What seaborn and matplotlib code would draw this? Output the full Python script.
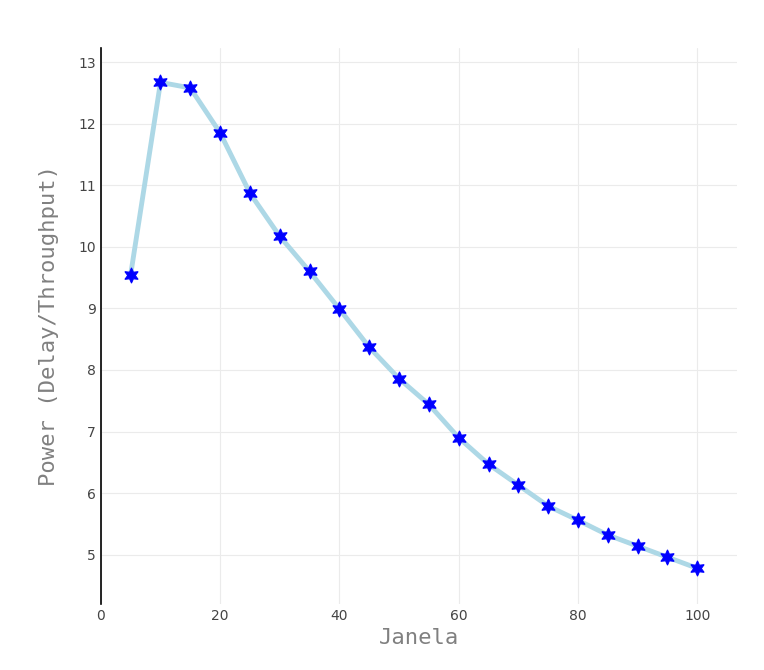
import numpy as np
import pandas as pd
import matplotlib.pyplot as plt
import seaborn as sns

janela = [5, 10, 15, 20, 25, 30, 35, 40, 45, 50, 55, 60, 65, 70, 75, 80, 85, 90, 95, 100]
power = [9.55, 12.67, 12.58, 11.85, 10.87, 10.17, 9.6, 8.99, 8.37, 7.86,
         7.44, 6.9, 6.47, 6.13, 5.79, 5.56, 5.32, 5.14, 4.96, 4.78]

df = pd.DataFrame({'Janela': janela, 'Power': power})

sns.set_style('whitegrid', {'grid.color': '#ebebeb', 'axes.edgecolor': 'black'})
fig = plt.figure(figsize=(7.64, 6.7), dpi=100)
ax = fig.add_axes([0.132, 0.0985, 0.833, 0.83])

sns.lineplot(data=df, x='Janela', y='Power', ax=ax, color='lightblue', linewidth=3.5,
             marker=(6, 1, 0), markersize=11, markerfacecolor='blue', markeredgecolor='blue')

ax.set_xlim(0, 106.7)
ax.set_ylim(4.2, 13.23)
ax.set_xticks([0, 20, 40, 60, 80, 100])
ax.set_yticks(range(5, 14))
for s in ['top', 'right', 'bottom']:
    ax.spines[s].set_visible(False)
ax.spines['left'].set_linewidth(1.2)
ax.tick_params(labelsize=10, colors='#444444', length=0)
ax.set_xlabel('Janela', family='DejaVu Sans Mono', fontsize=16, color='gray')
ax.set_ylabel('Power (Delay/Throughput)', family='DejaVu Sans Mono', fontsize=16, color='gray', labelpad=14)

fig.savefig('out.png', dpi=100)
